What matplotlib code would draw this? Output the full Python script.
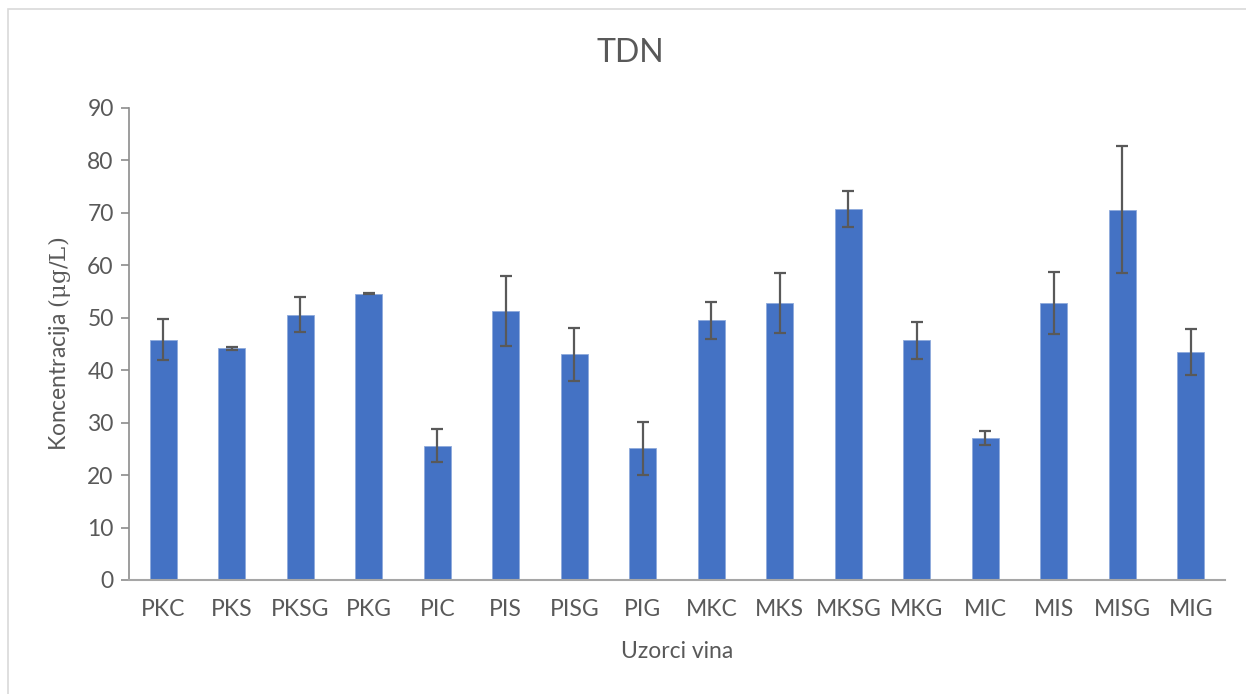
import matplotlib
matplotlib.use("Agg")
import matplotlib.pyplot as plt
from matplotlib.patches import Rectangle

categories = ["PKC", "PKS", "PKSG", "PKG", "PIC", "PIS", "PISG", "PIG",
              "MKC", "MKS", "MKSG", "MKG", "MIC", "MIS", "MISG", "MIG"]
values = [45.8, 44.2, 50.6, 54.6, 25.6, 51.3, 43.0, 25.1,
          49.5, 52.8, 70.8, 45.7, 27.1, 52.9, 70.6, 43.4]
errors = [3.9, 0.3, 3.3, 0.1, 3.1, 6.7, 5.0, 5.0,
          3.6, 5.7, 3.4, 3.5, 1.3, 5.9, 12.1, 4.4]
yticks = [0, 10, 20, 30, 40, 50, 60, 70, 80, 90]

plt.rcParams['font.family'] = ['Lato', 'DejaVu Sans']
plt.rcParams['mathtext.fontset'] = 'dejavuserif'

txt = '#595959'
fig = plt.figure(figsize=(12.46, 6.94), dpi=100)
ax = fig.add_axes([129/1246, 1 - 580/694, (1225-129)/1246, (580-108)/694])

x = list(range(len(categories)))
ax.bar(x, values, width=0.4, color='#4472C4', edgecolor='#8FAADC', linewidth=0.6,
       yerr=errors, error_kw=dict(ecolor='#595959', elinewidth=1.6, capsize=4.5, capthick=1.6),
       zorder=2)

ax.set_xlim(-0.5, len(categories) - 0.5)
ax.set_ylim(0, 90)
ax.set_yticks(yticks)
ax.set_xticks(x)
ax.set_xticklabels(categories)

for s in ['top', 'right']:
    ax.spines[s].set_visible(False)
ax.spines['left'].set_color('#8c8c8c')
ax.spines['bottom'].set_color('#a6a6a6')
ax.spines['left'].set_linewidth(1.2)
ax.spines['bottom'].set_linewidth(1.5)
ax.tick_params(axis='y', direction='out', length=6, width=1.2, color='#8c8c8c',
               labelsize=16.5, labelcolor=txt, pad=5)
ax.tick_params(axis='x', length=0, labelsize=16.5, labelcolor=txt, pad=14)

fig.text(630/1246, 1 - 53/694, 'TDN', fontsize=23, color=txt, ha='center', va='center')
ax.set_xlabel('Uzorci vina', fontsize=16.5, color=txt, labelpad=15)
ax.set_ylabel(r'Koncentracija $\mathrm{(\mu g/L)}$', fontsize=16.5, color=txt, labelpad=10)

fig.patches.append(Rectangle((8/1246, -0.1), 1.2, (694-9)/694 + 0.1,
                             transform=fig.transFigure, fill=False,
                             edgecolor='#d9d9d9', linewidth=1.2))

fig.savefig('out.png', dpi=100, facecolor='white')
